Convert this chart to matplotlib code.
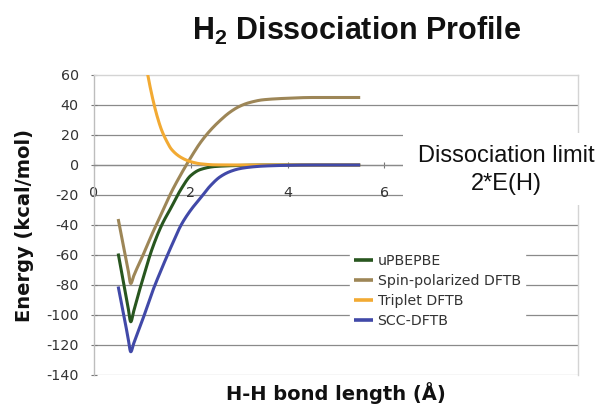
import matplotlib
matplotlib.use("Agg")
import numpy as np
import matplotlib.pyplot as plt
from matplotlib.patches import Rectangle

plt.rcParams['axes.unicode_minus'] = False
plt.rcParams['mathtext.fontset'] = 'custom'
plt.rcParams['mathtext.rm'] = 'Liberation Sans'
plt.rcParams['mathtext.bf'] = 'Liberation Sans:bold'

# Potential energy curves for H2 (bond length in Angstrom, energy in kcal/mol)
upbe_r = [0.50, 0.60, 0.70, 0.76, 0.82, 0.90, 1.00, 1.20, 1.40, 1.60, 1.80, 2.00, 2.20, 2.50, 3.00, 3.50, 4.00, 4.50, 5.00, 5.50]
upbe_e = [-59, -76.5, -94, -104.5, -97.5, -88, -77, -56, -40, -28, -16, -7, -3, -1, -0.3, 0, 0, 0, 0, 0]

spin_r = [0.50, 0.60, 0.70, 0.76, 0.82, 0.90, 1.00, 1.20, 1.40, 1.60, 1.80, 2.00, 2.20, 2.40, 2.60, 2.80, 3.00, 3.20, 3.50, 4.00, 4.50, 5.00, 5.50]
spin_e = [-36, -52.5, -69, -79, -74, -68, -61, -46, -32, -18, -6, 5, 15, 23, 29.5, 35, 39, 41.5, 43.5, 44.5, 45, 45, 45]

trip_r = [1.00, 1.10, 1.20, 1.30, 1.40, 1.50, 1.60, 1.80, 2.00, 2.20, 2.50, 3.00, 3.50, 4.00, 4.50, 5.00, 5.50]
trip_e = [82, 62, 46, 33, 23, 16, 10.5, 5, 2.2, 0.8, 0.1, 0, 0, 0, 0, 0, 0]

scc_r = [0.50, 0.60, 0.70, 0.76, 0.82, 0.90, 1.00, 1.20, 1.40, 1.60, 1.80, 2.00, 2.20, 2.40, 2.60, 2.80, 3.00, 3.20, 3.50, 4.00, 4.50, 5.00, 5.50]
scc_e = [-81, -97.5, -114.5, -124.5, -119, -112, -103.5, -85, -69, -54, -40, -30, -22, -14, -8, -4.5, -2.5, -1.5, -0.7, -0.2, 0, 0, 0]

series_names = ["uPBEPBE", "Spin-polarized DFTB", "Triplet DFTB", "SCC-DFTB"]
series_colors = ["#28561f", "#9d8657", "#f2aa33", "#4149a8"]

x_ticks = [0, 2, 4, 6, 8, 10]
x_tick_labels = ["0", "2", "4", "6", "", ""]
y_ticks = [-140, -120, -100, -80, -60, -40, -20, 0, 20, 40, 60]


def smooth_curve(xs, ys, steps=20):
    """Monotone cubic (Fritsch-Carlson) line through the points."""
    x = np.asarray(xs, float)
    y = np.asarray(ys, float)
    h = np.diff(x)
    d = np.diff(y) / h
    m = np.zeros_like(y)
    m[0], m[-1] = d[0], d[-1]
    for k in range(1, len(x) - 1):
        if d[k - 1] * d[k] > 0:
            w1 = 2 * h[k] + h[k - 1]
            w2 = h[k] + 2 * h[k - 1]
            m[k] = (w1 + w2) / (w1 / d[k - 1] + w2 / d[k])
    px, py = [x[0]], [y[0]]
    t = np.linspace(0, 1, steps + 1)[1:]
    for k in range(len(x) - 1):
        h00 = 2 * t**3 - 3 * t**2 + 1
        h10 = t**3 - 2 * t**2 + t
        h01 = -2 * t**3 + 3 * t**2
        h11 = t**3 - t**2
        px.extend(x[k] + t * h[k])
        py.extend(h00 * y[k] + h10 * h[k] * m[k] + h01 * y[k + 1] + h11 * h[k] * m[k + 1])
    return np.array(px), np.array(py)


W, H = 607, 405
fig = plt.figure(figsize=(W / 100, H / 100), dpi=100)
ax = fig.add_axes([94 / W, 30 / H, 484 / W, 300 / H])
ax.set_xlim(0, 10)
ax.set_ylim(-140, 60)

grid_col = "#8a8a8a"
border_col = "#d4d4d4"
for yv in y_ticks[1:-1]:
    ax.axhline(yv, color=grid_col, lw=0.9, zorder=1)

for s in ["top", "right"]:
    ax.spines[s].set_color(border_col)
    ax.spines[s].set_linewidth(1.0)
ax.spines["left"].set_color("#bdbdbd")
ax.spines["left"].set_linewidth(1.0)
ax.spines["bottom"].set_position(("data", 0))
ax.spines["bottom"].set_color(grid_col)
ax.spines["bottom"].set_linewidth(0.9)
ax.axhline(-140, color=border_col, lw=1.0, zorder=1)

ax.set_xticks(x_ticks)
ax.set_xticklabels(x_tick_labels)
ax.set_yticks(y_ticks)
ax.tick_params(axis="x", direction="inout", length=4, width=0.8, color="#777777",
               labelsize=10.3, pad=13, labelcolor="#333333")
ax.tick_params(axis="y", direction="inout", length=4, width=0.8, color="#777777",
               labelsize=10.3, pad=9, labelcolor="#333333")

for r, e, name, col in zip([upbe_r, spin_r, trip_r, scc_r],
                           [upbe_e, spin_e, trip_e, scc_e],
                           series_names, series_colors):
    sx, sy = smooth_curve(r, e)
    ax.plot(sx, sy, color=col, lw=2.2, label=name, zorder=3,
            solid_joinstyle="round", solid_capstyle="butt")

leg = ax.legend(loc="upper left", bbox_to_anchor=(350 / W, 1 - 250 / H),
                bbox_transform=fig.transFigure, frameon=True, fancybox=False,
                edgecolor="white", facecolor="white", framealpha=1.0,
                fontsize=10.2, handlelength=1.35, handletextpad=0.3,
                labelspacing=0.42, borderpad=0.3, borderaxespad=0)
for t in leg.get_texts():
    t.set_color("#333333")
for h in leg.get_lines():
    h.set_linewidth(2.6)
leg.set_zorder(5)

# Title
fig.text(357 / W, 1 - 40 / H, r"H$_\mathbf{2}$ Dissociation Profile",
         family="Liberation Sans", weight="bold", fontsize=22,
         ha="center", va="baseline", color="#111111")

# Axis labels
fig.text(25 / W, 1 - 225 / H, "Energy (kcal/mol)", rotation=90,
         family="DejaVu Sans", weight="bold", fontsize=14,
         ha="center", va="center", color="#111111")
fig.text(336 / W, 1 - 393 / H, "H-H bond length (Å)",
         family="DejaVu Sans", weight="bold", fontsize=14,
         ha="center", va="center", color="#111111")

# Annotation box for the separated-atom limit
fig.patches.append(Rectangle((403 / W, 1 - 205 / H), 204 / W, 72 / H,
                             transform=fig.transFigure, facecolor="white",
                             edgecolor="none", zorder=10))
fig.text(506 / W, 1 - 170 / H, "Dissociation limit\n2*E(H)",
         family="Liberation Sans", fontsize=17, ha="center", va="center",
         linespacing=1.35, color="#111111", zorder=11)

fig.savefig("out.png", dpi=100)
